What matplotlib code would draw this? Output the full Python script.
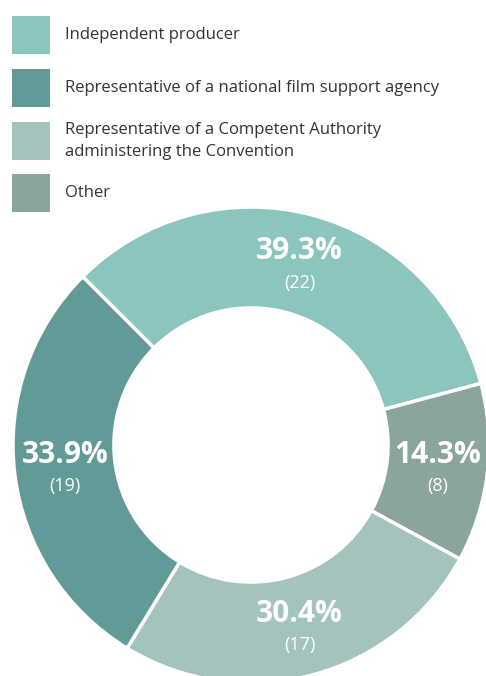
import matplotlib
matplotlib.use('Agg')
import matplotlib.pyplot as plt
from matplotlib.patches import Rectangle
import numpy as np

# Data #
categories = ['Independent producer',
              'Representative of a national film support agency',
              'Representative of a Competent Authority\nadministering the Convention',
              'Other']
colors = ['#8cc5be', '#629a98', '#a4c3bd', '#8ba59e']
# ring order (clockwise from upper left)
ring_order = [0, 3, 2, 1]
counts = [22, 19, 17, 8]
percents = [39.3, 33.9, 30.4, 14.3]

plt.rcParams['font.family'] = ['Open Sans', 'DejaVu Sans']

W, H = 486, 676
fig = plt.figure(figsize=(W/100, H/100), dpi=100)

# Donut #
cx, cy, R = 251, 445, 238
ax = fig.add_axes([(cx-R)/W, (H-cy-R)/H, 2*R/W, 2*R/H])
vals = [counts[i] for i in ring_order]
cols = [colors[i] for i in ring_order]
wedges, _ = ax.pie(vals, colors=cols, startangle=135, counterclock=False, radius=1,
                   wedgeprops=dict(width=0.424, edgecolor='white', linewidth=2.5))
ax.set_xlim(-1, 1)
ax.set_ylim(-1, 1)
ax.set_aspect('equal')
ax.axis('off')

r_mid = 0.788
for w, i in zip(wedges, ring_order):
    ang = np.deg2rad((w.theta1 + w.theta2) / 2)
    x, y = r_mid*np.cos(ang), r_mid*np.sin(ang)
    ax.text(x, y + 0.052, '%.1f%%' % percents[i], color='white', fontsize=21.5,
            fontweight='bold', ha='center', va='center')
    ax.text(x, y - 0.08, '(%d)' % counts[i], color='white', fontsize=13,
            ha='center', va='center')

# Legend #
sw_tops = [16, 69, 122, 174]
for i, top in enumerate(sw_tops):
    fig.patches.append(Rectangle((12/W, (H-top-38)/H), 38/W, 38/H, transform=fig.transFigure,
                                 facecolor=colors[i], edgecolor='none'))
    fig.text(65/W, (H-top-19)/H, categories[i], fontsize=12, color='#333333',
             ha='left', va='center', linespacing=1.45)

fig.savefig('out.png', dpi=100)
